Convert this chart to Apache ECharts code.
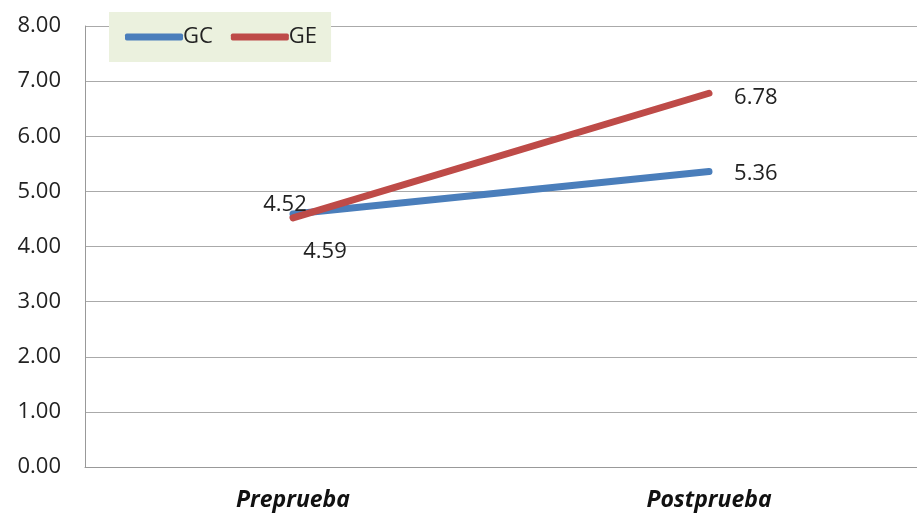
<!DOCTYPE html>
<html><head><meta charset="utf-8">
<script src="https://cdn.jsdelivr.net/npm/echarts@6/dist/echarts.min.js"></script>
<style>html,body{margin:0;padding:0;background:#fff}#c{width:917px;height:514px}</style>
</head><body><div id="c"></div>
<script>
var categories = ['Preprueba', 'Postprueba'];
var gcValues = [4.59, 5.36];
var geValues = [4.52, 6.78];
var yTicks = [0, 1, 2, 3, 4, 5, 6, 7, 8];

var FONT = "'Open Sans','Liberation Sans',sans-serif";
var chart = echarts.init(document.getElementById('c'));
function fmt(p) { return p.value.toFixed(2); }
chart.setOption({
  animation: false,
  textStyle: { fontFamily: FONT },
  legend: {
    left: 109, top: 12,
    padding: [14, 14, 14, 16],
    backgroundColor: '#ebf1de',
    itemWidth: 58, itemHeight: 7, itemGap: 18,
    icon: 'roundRect',
    textStyle: { fontSize: 22, color: '#222', fontFamily: FONT, padding: [0, 0, 0, -5] },
    data: ['GC', 'GE']
  },
  grid: { left: 85, right: -9, top: 26, bottom: 47 },
  xAxis: {
    type: 'category', data: categories, boundaryGap: true,
    axisLine: { lineStyle: { color: '#999', width: 1 } },
    axisTick: { show: false },
    axisLabel: { fontSize: 23, fontWeight: 'bold', fontStyle: 'italic', color: '#111', margin: 22, fontFamily: FONT }
  },
  yAxis: {
    type: 'value', min: yTicks[0], max: yTicks[yTicks.length - 1], interval: 1,
    axisLine: { show: true, lineStyle: { color: '#999', width: 1 } },
    axisTick: { show: false },
    splitLine: { lineStyle: { color: '#aaa', width: 1 } },
    axisLabel: { fontSize: 22, color: '#222', margin: 24, fontFamily: FONT,
      formatter: function (v) { return v.toFixed(2); } }
  },
  series: [
    {
      name: 'GC', type: 'line', data: gcValues.map(function (v, i) {
        return { value: v, label: i === 0 ? { position: 'bottom', offset: [32, 22] } : { position: 'right', offset: [20, 2] } };
      }),
      symbol: 'circle', symbolSize: 0.1, showSymbol: true,
      lineStyle: { color: '#4a7ebb', width: 7, cap: 'round' },
      itemStyle: { color: '#4a7ebb' },
      label: { show: true, fontSize: 22, color: '#222', fontFamily: FONT, formatter: fmt },
      z: 2
    },
    {
      name: 'GE', type: 'line', data: geValues.map(function (v, i) {
        return { value: v, label: i === 0 ? { position: 'top', offset: [-8, 3] } : { position: 'right', offset: [20, 4] } };
      }),
      symbol: 'circle', symbolSize: 0.1, showSymbol: true,
      lineStyle: { color: '#be4b48', width: 7, cap: 'round' },
      itemStyle: { color: '#be4b48' },
      label: { show: true, fontSize: 22, color: '#222', fontFamily: FONT, formatter: fmt },
      z: 3
    }
  ]
});
</script></body></html>
